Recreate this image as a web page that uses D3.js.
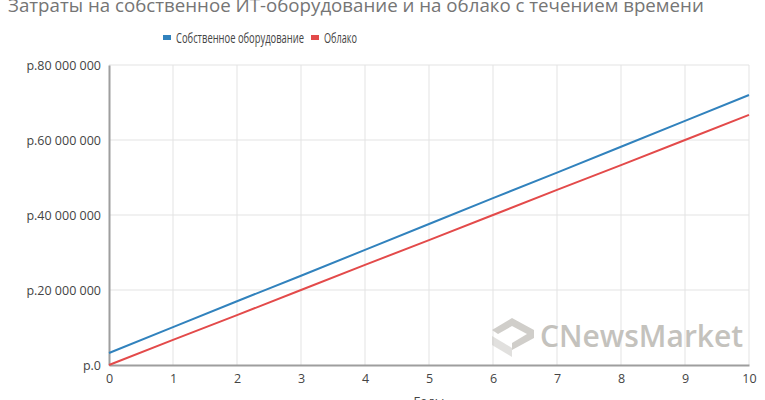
<!DOCTYPE html>
<html lang="ru">
<head>
<meta charset="UTF-8">
<title>Затраты</title>
<script src="https://d3js.org/d3.v7.min.js"></script>
<style>
  body { margin: 0; background: #fff; }
  svg { display: block; font-family: "Open Sans", sans-serif; }
</style>
</head>
<body>
<div class="chart"></div>
<script>
// данные (млн руб. по годам)
const years = [0, 1, 2, 3, 4, 5, 6, 7, 8, 9, 10]
const ownHw = [3.2, 10.1, 17.0, 23.8, 30.7, 37.6, 44.5, 51.3, 58.2, 65.1, 72.0]
const cloud = [0, 6.7, 13.3, 20.0, 26.7, 33.3, 40.0, 46.7, 53.3, 60.0, 66.7]
const yTicks = [0, 20000000, 40000000, 60000000, 80000000]
const seriesNames = ['Собственное оборудование', 'Облако']
const colors = ['#3182bd', '#e34a4a']

const width = 765, height = 400
const m = { left: 109, right: 16, top: 65, bottom: 35 }

const svg = d3.select('.chart').append('svg')
  .attr('width', width).attr('height', height)

const x = d3.scaleLinear().domain([0, 10]).range([m.left, width - m.right])
const y = d3.scaleLinear().domain([0, 80000000]).range([height - m.bottom, m.top])

// заголовок (сверху обрезан, как в оригинале)
svg.append('text')
  .attr('x', 8).attr('y', 12)
  .attr('font-size', 18.7).attr('fill', '#757575')
  .text('Затраты на собственное ИТ-оборудование и на облако с течением времени')

// сетка
svg.append('g').selectAll('line').data(years.slice(1))
  .join('line')
  .attr('x1', d => x(d)).attr('x2', d => x(d))
  .attr('y1', y(0)).attr('y2', y(80000000))
  .attr('stroke', '#e3e3e3').attr('stroke-width', 1)
svg.append('g').selectAll('line').data(yTicks.slice(1))
  .join('line')
  .attr('x1', x(0)).attr('x2', x(10))
  .attr('y1', d => y(d)).attr('y2', d => y(d))
  .attr('stroke', '#e3e3e3').attr('stroke-width', 1)

// водяной знак
const wm = svg.append('g').attr('fill', '#c4c2bd')
wm.append('path')
  .attr('d', 'M492,330 L512,318 L534,330 L534,338 L512,350 L512,343 L527,334 L512,326 L498,334 Z')
  .attr('opacity', 0.8)
wm.append('path')
  .attr('d', 'M492,336 L512,348 L512,357 L492,345 Z')
  .attr('opacity', 0.5)
wm.append('text')
  .attr('x', 540).attr('y', 347)
  .attr('font-size', 30).attr('font-weight', 600)
  .text('CNewsMarket')

// оси
const fmt = d => 'р.' + (d === 0 ? '0' : d3.format(',')(d).replace(/,/g, ' '))
svg.append('g')
  .attr('transform', `translate(${m.left},0)`)
  .call(d3.axisLeft(y).tickValues(yTicks).tickFormat(fmt).tickSize(0).tickPadding(8))
  .call(g => g.select('.domain').attr('stroke', '#9e9e9e').attr('stroke-width', 2))
  .call(g => g.selectAll('text').attr('font-size', 12.5).attr('fill', '#444').attr('font-family', 'Open Sans'))

svg.append('g')
  .attr('transform', `translate(0,${y(0)})`)
  .call(d3.axisBottom(x).tickValues(years).tickFormat(d3.format('d')).tickSize(0).tickPadding(9))
  .call(g => g.select('.domain').attr('stroke', '#9e9e9e').attr('stroke-width', 2))
  .call(g => g.selectAll('text').attr('font-size', 12.5).attr('fill', '#444').attr('font-family', 'Open Sans'))

// подпись оси X (снизу обрезана, как в оригинале)
svg.append('text')
  .attr('x', (x(0) + x(10)) / 2).attr('y', 406)
  .attr('text-anchor', 'middle')
  .attr('font-size', 12.5).attr('fill', '#444')
  .text('Годы')

// линии
const line = d3.line().x((d, i) => x(years[i])).y(d => y(d * 1000000))
;[ownHw, cloud].forEach((s, i) => {
  svg.append('path')
    .datum(s)
    .attr('fill', 'none')
    .attr('stroke', colors[i])
    .attr('stroke-width', 2)
    .attr('d', line)
})

// легенда
const legend = svg.append('g').attr('transform', 'translate(0,38)')
const lx = [163, 311]
const lw = [128, 33]
seriesNames.forEach((n, i) => {
  legend.append('rect')
    .attr('x', lx[i]).attr('y', -3).attr('width', 8).attr('height', 5)
    .attr('fill', colors[i])
  legend.append('text')
    .attr('x', lx[i] + 13).attr('y', 5)
    .attr('font-size', 14).attr('fill', '#444')
    .attr('textLength', lw[i]).attr('lengthAdjust', 'spacingAndGlyphs')
    .text(n)
})
</script>
</body>
</html>
